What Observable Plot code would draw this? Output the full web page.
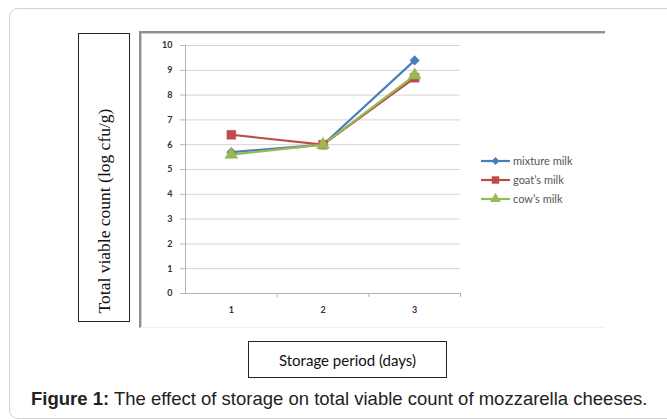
<!DOCTYPE html>
<html><head><meta charset="utf-8">
<script src="https://cdn.jsdelivr.net/npm/d3@7"></script>
<script src="https://cdn.jsdelivr.net/npm/@observablehq/plot@0.6"></script>
<style>
html,body{margin:0;padding:0;background:#fff;}
#fig{position:relative;width:667px;height:419px;overflow:hidden;background:#fff;}
#outer{position:absolute;left:9px;top:8px;width:690px;height:409px;border:1px solid #d2d2d2;border-radius:9px;}
#ybox{position:absolute;left:78px;top:33px;width:50px;height:287px;border:1.3px solid #222;}
#ylab{position:absolute;left:104px;top:211px;transform:translate(-50%,-50%) rotate(-90deg);white-space:nowrap;font-family:"Liberation Serif",serif;font-size:17.5px;color:#111;}
#frame{position:absolute;left:139px;top:31px;width:464px;height:294px;border-left:2px solid #8f8f8f;border-top:2px solid #8f8f8f;border-bottom:1px solid #f0f0f0;box-shadow:inset 1px 1px 0 #cfcfcf;}
#chart{position:absolute;left:141px;top:33px;}
#legend{position:absolute;left:478px;top:151px;}
#xbox{position:absolute;left:248px;top:341px;width:197px;height:35px;border:1.3px solid #222;font-family:Lato,sans-serif;font-size:15px;color:#111;display:flex;align-items:center;justify-content:center;}
#caption{position:absolute;left:31px;top:388px;font-family:"Liberation Sans",Arial,sans-serif;font-size:18.5px;color:#222;white-space:nowrap;}
</style></head><body>
<div id="fig">
  <div id="outer"></div>
  <div id="ybox"></div>
  <div id="ylab">Total viable count (log cfu/g)</div>
  <div id="frame"></div>
  <div id="chart"></div>
  <div id="legend"></div>
  <div id="xbox">Storage period (days)</div>
  <div id="caption"><b>Figure 1:</b> The effect of storage on total viable count of mozzarella cheeses.</div>
</div>
<script>
const days = [1, 2, 3];
const mixtureMilk = [5.7, 6.0, 9.4];
const goatsMilk = [6.4, 6.0, 8.7];
const cowsMilk = [5.6, 6.0, 8.8];
const seriesNames = ["mixture milk", "goat\u2019s milk", "cow\u2019s milk"];
const seriesColors = ["#4a7ebb", "#be4b48", "#98b954"];
const seriesSymbols = ["diamond2", "square", "triangle"];
const seriesSizes = [4.3, 5, 4.8];
const yTicks = [0, 1, 2, 3, 4, 5, 6, 7, 8, 9, 10];
const xTickLabels = ["1", "2", "3"];
const xBoundaries = [1.5, 2.5, 3.5];

const allValues = [mixtureMilk, goatsMilk, cowsMilk];
const data = [];
allValues.forEach((vals, s) => vals.forEach((v, i) => data.push({series: seriesNames[s], day: days[i], value: v})));

const marks = [
  Plot.gridY(yTicks, {stroke: "#d4d4d4", strokeOpacity: 1, strokeWidth: 1}),
  Plot.ruleY([0], {stroke: "#b5b5b5"}),
  Plot.ruleX([0.5], {stroke: "#b5b5b5"}),
  Plot.axisY(yTicks, {tickSize: 5, tickPadding: 8, stroke: "#b5b5b5", fill: "#333", fontSize: 9, fontWeight: "bold", fontFamily: "Lato, sans-serif", label: null}),
  Plot.axisX(days, {tickSize: 0, tickPadding: 13, fill: "#333", fontSize: 9, fontWeight: "bold", fontFamily: "Lato, sans-serif", label: null, tickFormat: (d, i) => xTickLabels[i]}),
  Plot.axisX(xBoundaries, {tickSize: 4, stroke: "#b5b5b5", tickFormat: () => "", label: null})
];
seriesNames.forEach((name, s) => {
  const sd = data.filter(d => d.series === name);
  marks.push(Plot.line(sd, {x: "day", y: "value", stroke: seriesColors[s], strokeWidth: 2.2}));
});
seriesNames.forEach((name, s) => {
  const sd = data.filter(d => d.series === name);
  marks.push(Plot.dot(sd, {x: "day", y: "value", symbol: () => seriesSymbols[s], fill: seriesColors[s], stroke: seriesColors[s], strokeWidth: 0.5, r: seriesSizes[s]}));
});

const chart = Plot.plot({
  width: 462, height: 293,
  marginLeft: 44, marginRight: 143, marginTop: 12, marginBottom: 33,
  x: {type: "linear", domain: [0.5, 3.5]},
  y: {domain: [0, 10]},
  symbol: {type: "identity"},
  style: {background: "transparent", overflow: "visible"},
  marks
});
document.getElementById("chart").appendChild(chart);

// legend
const lg = d3.select("#legend").append("svg").attr("width", 130).attr("height", 60);
seriesNames.forEach((name, s) => {
  const g = lg.append("g").attr("transform", `translate(0,${10 + s * 19})`);
  g.append("line").attr("x1", 3).attr("x2", 32).attr("y1", 0).attr("y2", 0).attr("stroke", seriesColors[s]).attr("stroke-width", 2.2);
  const sym = {diamond2: d3.symbolDiamond2, square: d3.symbolSquare, triangle: d3.symbolTriangle}[seriesSymbols[s]];
  g.append("path").attr("d", d3.symbol(sym, Math.PI * seriesSizes[s] * seriesSizes[s] * 0.7)()).attr("transform", "translate(17.5,0)").attr("fill", seriesColors[s]);
  g.append("text").attr("x", 35).attr("y", 0).attr("dy", "0.35em").attr("font-family", "Lato, sans-serif").attr("font-size", 11).attr("fill", "#555").text(name);
});
</script>
</body></html>
